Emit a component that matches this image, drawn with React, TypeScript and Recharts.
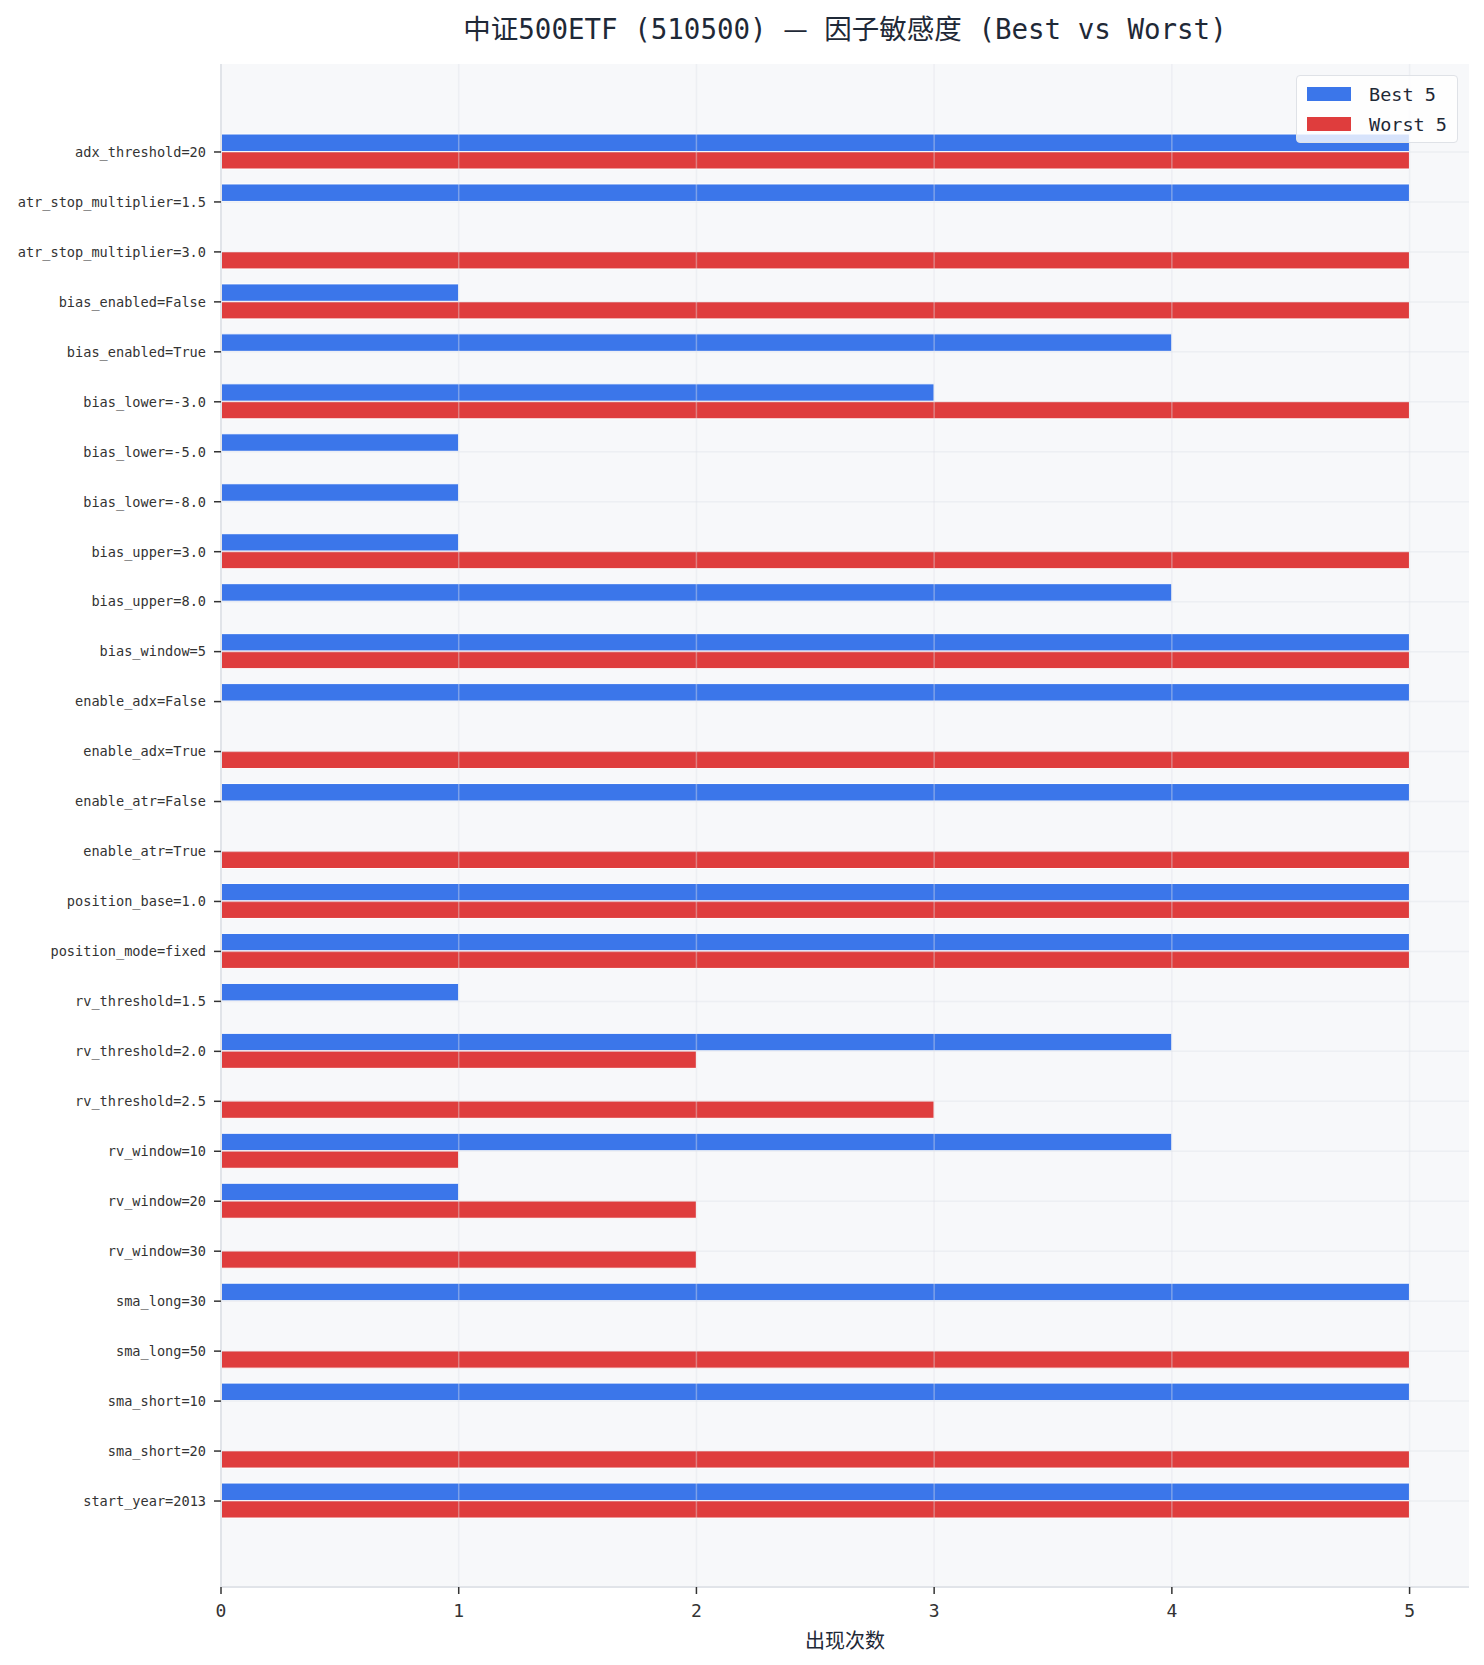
import React from "react";
import {
  BarChart,
  Bar,
  XAxis,
  YAxis,
  CartesianGrid,
  ReferenceLine,
} from "recharts";

// Factor values, top to bottom
const factors: string[] = [
  "adx_threshold=20",
  "atr_stop_multiplier=1.5",
  "atr_stop_multiplier=3.0",
  "bias_enabled=False",
  "bias_enabled=True",
  "bias_lower=-3.0",
  "bias_lower=-5.0",
  "bias_lower=-8.0",
  "bias_upper=3.0",
  "bias_upper=8.0",
  "bias_window=5",
  "enable_adx=False",
  "enable_adx=True",
  "enable_atr=False",
  "enable_atr=True",
  "position_base=1.0",
  "position_mode=fixed",
  "rv_threshold=1.5",
  "rv_threshold=2.0",
  "rv_threshold=2.5",
  "rv_window=10",
  "rv_window=20",
  "rv_window=30",
  "sma_long=30",
  "sma_long=50",
  "sma_short=10",
  "sma_short=20",
  "start_year=2013",
];

// Occurrence counts among the 5 best parameter sets
const bestCounts: number[] = [
  5, 5, 0, 1, 4, 3, 1, 1, 1, 4, 5, 5, 0, 5, 0, 5, 5, 1, 4, 0, 4, 1, 0, 5, 0, 5, 0, 5,
];

// Occurrence counts among the 5 worst parameter sets
const worstCounts: number[] = [
  5, 0, 5, 5, 0, 5, 0, 0, 5, 0, 5, 0, 5, 0, 5, 5, 5, 0, 2, 3, 1, 2, 2, 0, 5, 0, 5, 5,
];

const xTicks: number[] = [0, 1, 2, 3, 4, 5];

const seriesNames = { best: "Best 5", worst: "Worst 5" };

const rows = factors.map((name, i) => ({
  name,
  best: bestCounts[i],
  worst: worstCounts[i],
}));

const BLUE = "#3b76ea";
const RED = "#df3d3d";
const MONO = "'DejaVu Sans Mono', 'Noto Sans CJK SC', monospace";
const CJK = "'Noto Sans CJK SC', sans-serif";
const TEXT = "#1f2937";
const GRID = "rgba(222, 226, 232, 0.4)";

const W = 1484;
const H = 1665;

function LegendBox() {
  const items = [
    { label: seriesNames.best, color: BLUE },
    { label: seriesNames.worst, color: RED },
  ];
  return (
    <div
      style={{
        position: "absolute",
        left: 1296,
        top: 75,
        width: 162,
        height: 68,
        boxSizing: "border-box",
        background: "rgba(255,255,255,0.8)",
        border: "1px solid #dfe2e7",
        borderRadius: 4,
        padding: "3px 0 0 10px",
        fontFamily: MONO,
        fontSize: 18.5,
        color: TEXT,
      }}
    >
      {items.map((it) => (
        <div
          key={it.label}
          style={{ display: "flex", alignItems: "center", height: 30 }}
        >
          <span
            style={{
              display: "inline-block",
              width: 44,
              height: 14,
              background: it.color,
              marginRight: 18,
            }}
          />
          <span>{it.label}</span>
        </div>
      ))}
    </div>
  );
}

export default function App() {
  return (
    <div
      style={{
        position: "absolute",
        left: 0,
        top: 0,
        width: W,
        height: H,
        background: "#ffffff",
      }}
    >
      <BarChart
        width={W}
        height={H}
        data={rows}
        layout="vertical"
        margin={{ top: 64, right: 15, bottom: 0, left: 0 }}
        barGap={0}
        style={{ position: "absolute", left: 0, top: 0 }}
      >
        <CartesianGrid fill="#f7f8fa" horizontal={false} vertical={false} />
        <XAxis
          type="number"
          domain={[0, 5.25]}
          ticks={xTicks}
          allowDataOverflow
          height={78}
          tickSize={7}
          tickMargin={10}
          axisLine={{ stroke: "#e1e4e9", strokeWidth: 2 }}
          tickLine={{ stroke: "#333", strokeWidth: 1.5 }}
          tick={{ fill: "#333", fontSize: 18, fontFamily: MONO }}
          label={{
            value: "出现次数",
            position: "insideBottom",
            offset: 17,
            fill: TEXT,
            fontSize: 20,
            fontFamily: CJK,
          }}
        />
        <YAxis
          type="category"
          dataKey="name"
          width={221}
          interval={0}
          padding={{ top: 63, bottom: 61 }}
          tickSize={7}
          tickMargin={8}
          axisLine={{ stroke: "#e1e4e9", strokeWidth: 2 }}
          tickLine={{ stroke: "#333", strokeWidth: 1.5 }}
          tick={{ fill: "#333", fontSize: 13.6, fontFamily: MONO }}
        />
        <Bar
          dataKey="best"
          name={seriesNames.best}
          fill={BLUE}
          stroke="#ffffff"
          strokeWidth={1}
          barSize={17.5}
          isAnimationActive={false}
        />
        <Bar
          dataKey="worst"
          name={seriesNames.worst}
          fill={RED}
          stroke="#ffffff"
          strokeWidth={1}
          barSize={17.5}
          isAnimationActive={false}
        />
        {xTicks
          .filter((t) => t > 0)
          .map((t) => (
            <ReferenceLine key={`vx-${t}`} x={t} stroke={GRID} strokeWidth={1.5} />
          ))}
        {factors.map((f) => (
          <ReferenceLine key={`hy-${f}`} y={f} stroke={GRID} strokeWidth={1.5} />
        ))}
      </BarChart>
      <div
        style={{
          position: "absolute",
          left: 221,
          width: 1248,
          top: 8,
          textAlign: "center",
          fontFamily: MONO,
          fontSize: 27.5,
          lineHeight: "38px",
          color: TEXT,
          whiteSpace: "nowrap",
        }}
      >
        中证500ETF (510500) <span style={{ fontFamily: CJK }}>—</span> 因子敏感度 (Best vs Worst)
      </div>
      <LegendBox />
    </div>
  );
}
